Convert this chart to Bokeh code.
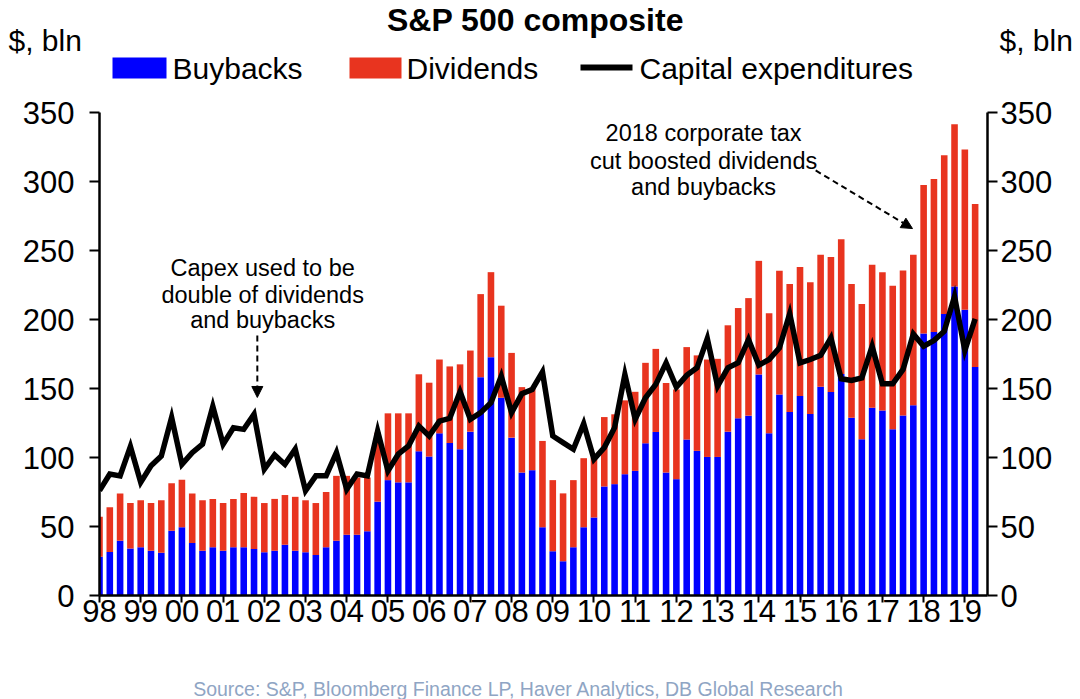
from bokeh.plotting import figure
from bokeh.layouts import column
from bokeh.models import (ColumnDataSource, Range1d, LinearAxis, FixedTicker, Label,
                          Arrow, NormalHead)
from bokeh.embed import file_html
from bokeh.resources import INLINE

# ---------------- data (quarterly, $ bln) ----------------
start_year = 1998
buybacks = [28, 31.6, 39.7, 34, 35, 32.5, 31, 47, 49.4, 38, 32.5, 35, 32.5, 35,
            35, 33.7, 31.3, 32.5, 36.8, 32.5, 31.3, 29.4, 35, 39.7, 44, 44, 46.5, 68,
            83.6, 82, 82, 104.5, 100.7, 117.5, 110.5, 106, 118.7, 158.2, 172.7, 143.3, 114.4, 89.1,
            90.8, 49.4, 32, 24.8, 35, 49.4, 56.6, 79, 80.7, 87.9, 90.3, 110.3, 118.5, 89.1,
            84.3, 113, 104.8, 100.4, 100.4, 118.7, 128.4, 130.3, 160.2, 117.5, 145.7, 133, 144.5, 131.5,
            151.2, 147.5, 160.5, 128.8, 113.2, 136, 134, 120.4, 130.5, 137.8, 189.8, 191, 204, 224,
            207, 165.5]
totals = [57, 64, 74, 67, 69, 67, 69, 81.4, 83.8, 74, 69, 70, 67, 70,
          74.2, 71.5, 67, 70, 72.8, 71.5, 69, 67, 75, 86.7, 86.7, 85.5, 85.5, 118,
          132, 132, 132, 160.3, 154.2, 171, 166, 167.5, 177.5, 218.4, 234.3, 210, 175.8, 151,
          150.5, 112, 83.6, 74, 83.6, 99.5, 100, 129.3, 131.3, 141.4, 147.6, 168.6, 178.7, 154,
          149.3, 180, 174, 171, 171.5, 195.8, 208.3, 215.5, 242.5, 204.6, 235.3, 225.7, 238, 227,
          247, 245.3, 258.2, 225.7, 211.2, 239.6, 234.3, 224.5, 235.5, 246.9, 297.5, 301.8, 319.1, 341.5,
          323.2, 283.7]
capex = [76, 88, 86.7, 108, 82, 94, 101, 129, 95, 103.5, 109.6, 137, 109.6, 121.6,
         120.4, 131.3, 91.5, 101.9, 95, 106, 75.9, 86.7, 86.7, 103.5, 77, 88, 86.7, 119.2,
         90.3, 102.4, 108.4, 122.8, 115.6, 126.4, 128.4, 147.6, 127.7, 132.5, 139.7, 159, 132.5, 146.2,
         149.3, 162, 115.6, 110.8, 106, 124.5, 98.8, 107.2, 121.6, 160.2, 127.7, 143.3, 153, 168.6,
         151, 159.5, 165, 186.2, 151.7, 165, 168.6, 185.5, 167, 171, 179.4, 204.3, 168.6, 171,
         174, 186.6, 157, 155.8, 157.7, 180.6, 153.4, 153.4, 163.8, 189.5, 180.6, 184.7, 191.5, 216.8,
         177.5, 200.4]
dividends = [round(t - b, 1) for t, b in zip(totals, buybacks)]
x_years = [start_year + i / 4 for i in range(len(buybacks))]

tick_years = list(range(1998, 2020))
tick_labels = ["98", "99", "00", "01", "02", "03", "04", "05", "06", "07", "08",
               "09", "10", "11", "12", "13", "14", "15", "16", "17", "18", "19"]
y_ticks = [0, 50, 100, 150, 200, 250, 300, 350]

BLUE = "#0000FF"
RED = "#E8341F"
FONT = "Liberation Sans"
W = 1080
TOP_H = 90
MAIN_H = 550
BOT_H = 59


def blank_fig(h):
    f = figure(width=W, height=h, output_backend="svg", toolbar_location=None,
               x_range=Range1d(0, W), y_range=Range1d(h, 0),
               x_axis_type=None, y_axis_type=None, min_border=0, frame_align=False)
    f.outline_line_color = None
    f.grid.visible = False
    return f


def label(f, x, y, s, size, align="center", bold=False, color="black"):
    f.add_layout(Label(x=x, y=y, text=s, text_font=FONT, text_font_size=size,
                       text_align=align, text_baseline="middle", text_color=color,
                       text_font_style="bold" if bold else "normal"))


# ---------------- header: title, units, legend ----------------
top = blank_fig(TOP_H)
label(top, 535, 19, "S&P 500 composite", "32px", bold=True)
label(top, 8, 40, "$, bln", "30px", align="left")
label(top, 999, 40, "$, bln", "30px", align="left")
top.quad(left=[112], right=[166], top=[57], bottom=[78], fill_color=BLUE, line_color=None)
label(top, 172, 68, "Buybacks", "30px", align="left")
top.quad(left=[349], right=[401], top=[57], bottom=[78], fill_color=RED, line_color=None)
label(top, 406, 68, "Dividends", "30px", align="left")
top.line([580, 632], [67, 67], line_width=6, line_color="black")
label(top, 639, 68, "Capital expenditures", "30px", align="left")

# ---------------- main chart ----------------
src = ColumnDataSource(dict(x=x_years, buy=buybacks, div=dividends, capex=capex))

p = figure(width=W, height=MAIN_H, output_backend="svg", toolbar_location=None,
           x_range=Range1d(1998.0, 2019.55), y_range=Range1d(0, 350),
           min_border_left=99, min_border_right=93, min_border_top=112 - TOP_H,
           min_border_bottom=TOP_H + MAIN_H - 595, frame_align=False)
p.outline_line_color = None
p.grid.visible = False

bars = p.vbar_stack(["buy", "div"], x="x", width=0.16, color=[BLUE, RED], source=src,
                    line_color=None)
ln = p.line("x", "capex", source=src, line_width=5.5, line_color="black", line_join="miter")


def style_axis(ax, standoff, tick_out=10):
    ax.axis_line_width = 2.5
    ax.axis_line_color = "black"
    ax.major_tick_line_width = 2
    ax.major_tick_out = tick_out
    ax.major_tick_in = 0
    ax.minor_tick_out = 0
    ax.minor_tick_in = 0
    ax.major_label_text_font = FONT
    ax.major_label_text_font_size = "31px"
    ax.major_label_text_color = "black"
    ax.major_label_standoff = standoff


xa = p.xaxis[0]
xa.ticker = FixedTicker(ticks=tick_years)
xa.major_label_overrides = {y: l for y, l in zip(tick_years, tick_labels)}
style_axis(xa, -3, tick_out=7)

ya = p.yaxis[0]
ya.ticker = FixedTicker(ticks=y_ticks)
style_axis(ya, 15)

yr = LinearAxis(ticker=FixedTicker(ticks=y_ticks))
style_axis(yr, 3)
p.add_layout(yr, "right")

label(p, 2001.96, 237.0, "Capex used to be", "23.5px")
label(p, 2001.96, 218.1, "double of dividends", "23.5px")
label(p, 2001.96, 199.3, "and buybacks", "23.5px")
label(p, 2012.66, 334.8, "2018 corporate tax", "23.5px")
label(p, 2012.66, 315.2, "cut boosted dividends", "23.5px")
label(p, 2012.66, 295.7, "and buybacks", "23.5px")

p.add_layout(Arrow(x_start=2001.83, y_start=188.4, x_end=2001.83, y_end=143.5,
                   line_dash="6 4", line_width=2, line_color="black",
                   end=NormalHead(size=11, fill_color="black", line_color="black")))
p.add_layout(Arrow(x_start=2015.38, y_start=308.0, x_end=2017.73, y_end=265.9,
                   line_dash="6 4", line_width=2, line_color="black",
                   end=NormalHead(size=11, fill_color="black", line_color="black")))

# ---------------- footer: source ----------------
bot = blank_fig(BOT_H)
label(bot, 518, 48, "Source: S&P, Bloomberg Finance LP, Haver Analytics, DB Global Research",
      "19.5px", color="#8FA5C4")

layout = column(top, p, bot, spacing=0)
open("out.html", "w").write(file_html(layout, INLINE))
